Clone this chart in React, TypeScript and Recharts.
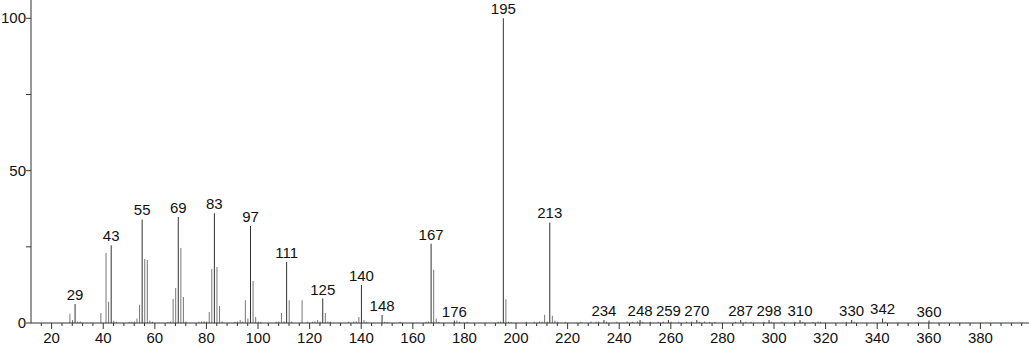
import { Bar, Cell, ComposedChart, LabelList, XAxis, YAxis } from "recharts";

const mzValues = [
  27, 28, 29, 30, 31, 39, 41, 42, 43, 44, 45, 50, 51, 52, 53, 54, 55, 56, 57, 58, 59, 65, 66, 67, 68, 69, 70, 71, 72,
  77, 78, 79, 80, 81, 82, 83, 84, 85, 86, 91, 92, 93, 94, 95, 96, 97, 98, 99, 100, 101, 107, 108, 109, 110, 111, 112,
  113, 117, 119, 121, 122, 123, 124, 125, 126, 127, 128, 135, 137, 138, 139, 140, 141, 142, 148, 149, 150, 155, 165,
  166, 167, 168, 169, 170, 176, 177, 178, 181, 193, 194, 195, 196, 197, 198, 204, 207, 209, 210, 211, 212, 213, 214,
  215, 216, 219, 225, 229, 231, 232, 234, 235, 239, 243, 245, 247, 248, 249, 252, 255, 257, 259, 260, 263, 266, 268,
  270, 271, 273, 275, 277, 285, 287, 289, 291, 296, 298, 299, 303, 308, 310, 311, 315, 317, 318, 328, 330, 331, 342,
  343, 360,
];

const intensities = [
  3, 1, 6.2, 0.5, 0.5, 3.3, 23, 7, 25.5, 0.7, 0.4, 0.3, 0.4, 0.5, 1.5, 6, 34, 21, 20.7, 0.8, 0.4, 0.4, 0.5, 7.9, 11.5,
  34.8, 24.6, 8.5, 0.5, 0.4, 0.5, 0.6, 0.5, 3.6, 17.7, 36, 18.4, 5.6, 0.5, 0.4, 0.5, 1, 0.5, 7.5, 1.5, 31.8, 13.8, 2,
  0.5, 0.4, 0.4, 0.5, 3.3, 0.6, 20, 7.5, 0.5, 7.5, 0.4, 0.4, 0.5, 1, 0.5, 8, 3.3, 0.5, 0.4, 0.4, 0.5, 0.6, 2, 12.5,
  1, 0.4, 2.6, 0.4, 0.3, 0.4, 0.4, 0.5, 26, 17.5, 1.5, 0.4, 0.8, 0.8, 0.4, 0.4, 0.4, 0.5, 100, 7.8, 0.4, 0.3, 0.4,
  0.4, 0.5, 0.5, 2.7, 0.5, 33, 2.4, 0.8, 0.4, 0.4, 0.4, 0.5, 0.4, 0.5, 1, 0.4, 0.4, 0.5, 0.4, 0.5, 1, 0.4, 0.4, 0.4,
  0.5, 1, 0.5, 0.4, 0.4, 0.5, 1, 0.4, 0.5, 0.4, 0.4, 0.4, 1, 0.4, 0.4, 0.4, 1, 0.4, 0.4, 0.4, 1, 0.4, 0.4, 0.5, 0.4,
  0.4, 1, 0.4, 1.5, 0.4, 0.8,
];

const labeledPeaks = [29, 43, 55, 69, 83, 97, 111, 125, 140, 148, 167, 176, 195, 213, 234, 248, 259, 270, 287, 298, 310, 330, 342, 360];

const xTicks: number[] = [];
for (let v = 16; v <= 396; v += 4) xTicks.push(v);
const yTicks = [0, 25, 50, 75, 100];
const yLabels = [0, 50, 100];

const peaks = mzValues.map((mz, i) => ({ mz, intensity: intensities[i], label: labeledPeaks.includes(mz) ? String(mz) : "" }));

const font = "'Liberation Sans', Arial, sans-serif";

function XTick(props: any) {
  const { x, y, payload } = props;
  const major = payload.value % 20 === 0;
  return (
    <g>
      <line x1={x} x2={x} y1={y} y2={y + (major ? 6 : 3)} stroke="#333" />
      {major && (
        <text x={x} y={y + 20} textAnchor="middle" fontSize={15} fill="#111" fontFamily={font}>
          {payload.value}
        </text>
      )}
    </g>
  );
}

function YTick(props: any) {
  const { x, y, payload } = props;
  return (
    <g>
      <line x1={x - 5} x2={x} y1={y} y2={y} stroke="#333" />
      {yLabels.includes(payload.value) && (
        <text x={x - 5} y={y + 5} textAnchor="end" fontSize={15} fill="#111" fontFamily={font}>
          {payload.value}
        </text>
      )}
    </g>
  );
}

function PeakLabel(props: any) {
  const { x, y, width, value } = props;
  if (!value) return null;
  return (
    <text x={x + width / 2} y={y - 4} textAnchor="middle" fontSize={15} fill="#111" fontFamily={font}>
      {value}
    </text>
  );
}

export default function App() {
  return (
    <div style={{ position: "absolute", left: 0, top: 0, width: 1029, height: 348, overflow: "hidden", background: "#fff" }}>
      <ComposedChart width={1040} height={348} data={peaks} margin={{ top: 0, right: 8, bottom: 0, left: 0 }}>
        <XAxis
          dataKey="mz"
          type="number"
          domain={[12, 400]}
          ticks={xTicks}
          interval={0}
          tickSize={0}
          tickMargin={0}
          tickLine={false}
          tick={<XTick />}
          stroke="#333"
          height={25}
        />
        <YAxis
          type="number"
          domain={[0, 106]}
          ticks={yTicks}
          interval={0}
          tickSize={0}
          tickMargin={0}
          tickLine={false}
          tick={<YTick />}
          stroke="#333"
          width={31}
        />
        <Bar dataKey="intensity" barSize={1} isAnimationActive={false}>
          {peaks.map((p) => (
            <Cell key={p.mz} fill={p.label ? "#333" : "#777"} />
          ))}
          <LabelList dataKey="label" content={<PeakLabel />} />
        </Bar>
      </ComposedChart>
    </div>
  );
}
